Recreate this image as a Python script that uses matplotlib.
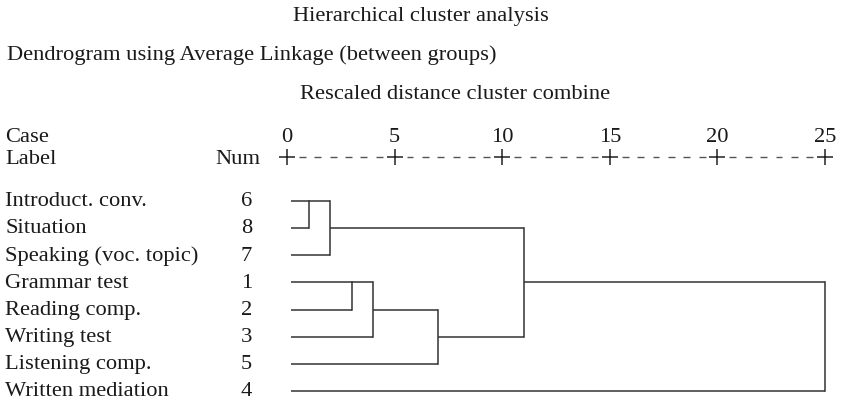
import numpy as np
import matplotlib
matplotlib.use('Agg')
import matplotlib.pyplot as plt
import matplotlib.transforms as mtrans

# case labels and numbers, top to bottom as in the dendrogram
case_labels = ['Introduct. conv.', 'Situation', 'Speaking (voc. topic)',
               'Grammar test', 'Reading comp.', 'Writing test',
               'Listening comp.', 'Written mediation']
case_nums = [6, 8, 7, 1, 2, 3, 5, 4]

# merge steps: cluster containing case a joins cluster containing case b
merge_a = [6, 6, 1, 1, 1, 6, 6]
merge_b = [8, 7, 2, 3, 5, 1, 4]
merge_dist = [1, 2, 3, 4, 7, 11, 25]

scale_ticks = [0, 5, 10, 15, 20, 25]

LINE = '#333333'
TEXT = '#1a1a1a'
FS = 16.2
plt.rcParams['font.family'] = ['Liberation Serif', 'DejaVu Serif']

fig = plt.figure(figsize=(8.44, 4.02), dpi=100)
ax = fig.add_axes([0, 0, 1, 1])
ax.set_xlim(-13.34, 25.88)
ax.set_ylim(7.37, -7.44)
ax.axis('off')

# blended transform: x in figure fraction, y in data rows
tr = mtrans.blended_transform_factory(fig.transFigure, ax.transData)

# titles
fig.text(0.499, 0.958, 'Hierarchical cluster analysis', ha='center',
         va='center', fontsize=FS, color=TEXT)
fig.text(0.008, 0.863, 'Dendrogram using Average Linkage (between groups)',
         ha='left', va='center', fontsize=FS, color=TEXT)
fig.text(0.539, 0.764, 'Rescaled distance cluster combine', ha='center',
         va='center', fontsize=FS, color=TEXT)

# header row
header_y = -1.62
ax.text(0.006, -2.47, 'Case', transform=tr, ha='left', va='center_baseline',
        fontsize=FS, color=TEXT)
ax.text(0.006, -1.66, 'Label', transform=tr, ha='left', va='center_baseline',
        fontsize=FS, color=TEXT)
ax.text(0.308, -1.66, 'Num', transform=tr, ha='right', va='center_baseline',
        fontsize=FS, color=TEXT)
for t in scale_ticks:
    ax.text(t, -2.47, str(t), ha='center', va='center_baseline',
            fontsize=FS, color=TEXT)
ax.plot(scale_ticks, [header_y] * len(scale_ticks), linestyle='none',
        marker='+', markersize=11, markeredgewidth=1.1, color='#222222')
# dashes between the plus signs
for t0, t1 in zip(scale_ticks[:-1], scale_ticks[1:]):
    step = (t1 - t0) / 7
    for j in range(1, 7):
        c = t0 + j * step
        ax.plot([c - 0.16, c + 0.16], [header_y, header_y], color='#555555',
                lw=1.0, solid_capstyle='butt')

# case rows (text sits a touch above the branch lines)
for i, (lab, num) in enumerate(zip(case_labels, case_nums)):
    ty = i - 0.1
    ax.text(0.006, ty, lab, transform=tr, ha='left', va='center_baseline',
            fontsize=FS, color=TEXT)
    ax.text(0.2986, ty, str(num), transform=tr, ha='right',
            va='center_baseline', fontsize=FS, color=TEXT)

# dendrogram
leaf_start = 0.2
state = {num: (i, leaf_start) for i, num in enumerate(case_nums)}
for a, b, d in zip(merge_a, merge_b, merge_dist):
    ya, xa = state[a]
    yb, xb = state[b]
    ax.plot([xa, d], [ya, ya], color=LINE, lw=1.1, solid_capstyle='butt')
    ax.plot([xb, d], [yb, yb], color=LINE, lw=1.1, solid_capstyle='butt')
    ax.plot([d, d], [ya, yb], color=LINE, lw=1.1, solid_capstyle='projecting')
    lo, hi = min(ya, yb), max(ya, yb)
    state[a] = (int(np.floor((lo + hi) / 2)), d)
    del state[b]

fig.savefig('out.png', dpi=100)
